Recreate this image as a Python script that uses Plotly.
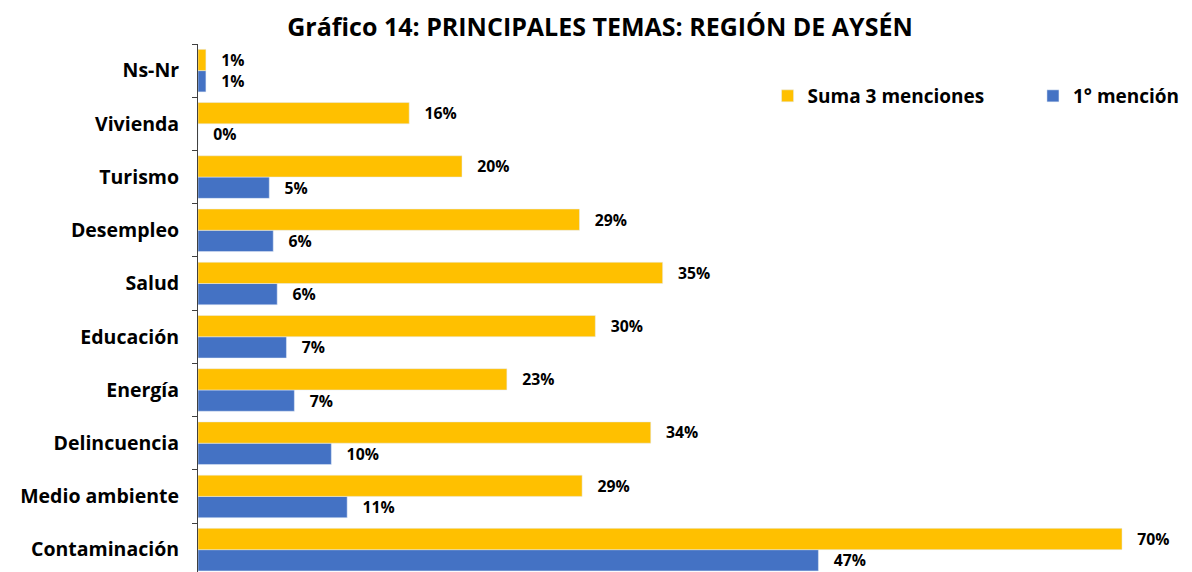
import plotly.graph_objects as go

categories = ["Contaminación", "Medio ambiente", "Delincuencia", "Energía", "Educación",
              "Salud", "Desempleo", "Turismo", "Vivienda", "Ns-Nr"]
suma_3 = [70.0, 29.1, 34.3, 23.4, 30.1, 35.2, 28.9, 20.0, 16.0, 0.6]
primera = [47.0, 11.3, 10.1, 7.3, 6.7, 6.0, 5.7, 5.4, 0.0, 0.6]

FONT = "Open Sans"
lbl_font = dict(family=FONT, size=20, color="black", weight="bold")
leg_font = dict(family=FONT, size=19, color="black", weight="bold")

fig = go.Figure()
fig.add_trace(go.Bar(
    y=categories, x=primera, orientation="h", name="1° mención",
    marker=dict(color="#4472C4"),
    texttemplate="\u00a0\u00a0\u00a0%{x:.0f}%", textposition="outside",
    textfont=lbl_font, cliponaxis=False, legend="legend2",
))
fig.add_trace(go.Bar(
    y=categories, x=suma_3, orientation="h", name="Suma 3 menciones",
    marker=dict(color="#FFC000"),
    texttemplate="\u00a0\u00a0\u00a0%{x:.0f}%", textposition="outside",
    textfont=lbl_font, cliponaxis=False, legend="legend",
))

fig.update_layout(
    width=1184, height=564,
    margin=dict(l=190, r=0, t=36, b=0, autoexpand=False),
    paper_bgcolor="white", plot_bgcolor="white",
    barmode="group", bargap=0.2, bargroupgap=0,
    title=dict(text="<b>Gráfico 14: PRINCIPALES TEMAS: REGIÓN DE AYSÉN</b>",
               x=0.5, xanchor="center", y=0.966, yanchor="middle",
               font=dict(family=FONT, size=25, color="black")),
    legend=dict(orientation="h", x=0.573, xanchor="left", y=0.9015, yanchor="middle",
                font=leg_font, bgcolor="rgba(0,0,0,0)"),
    legend2=dict(orientation="h", x=0.840, xanchor="left", y=0.9015, yanchor="middle",
                 font=leg_font, bgcolor="rgba(0,0,0,0)"),
    showlegend=True,
)
fig.update_xaxes(range=[0, 75.3], visible=False, showgrid=False, zeroline=False)
fig.update_yaxes(
    range=[-0.42, 9.5], showline=True, linecolor="#404040", linewidth=1,
    ticks="outside", tickson="boundaries", ticklen=5, tickcolor="#404040",
    tickfont=dict(family=FONT, size=19.5, color="black", weight="bold"),
    ticklabelstandoff=14, showgrid=False, zeroline=False, automargin=False,
)

fig.write_html("out.html")
